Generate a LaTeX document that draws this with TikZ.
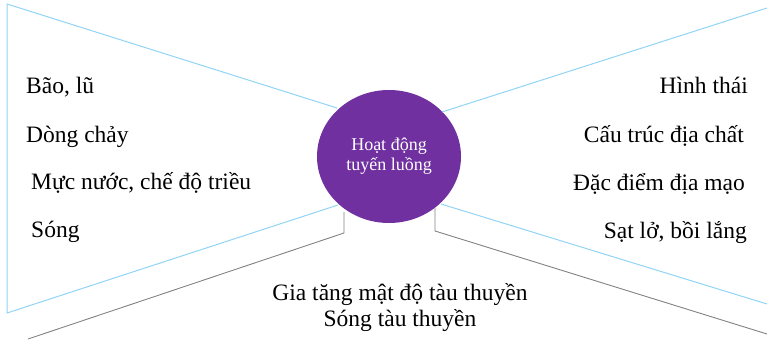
\documentclass[tikz,border=0pt]{standalone}
\usepackage{fontspec}
\setmainfont{Liberation Serif}
\usetikzlibrary{shapes.geometric}
\definecolor{lblue}{RGB}{145,212,245}
\definecolor{purp}{RGB}{112,48,160}
\definecolor{lgray}{RGB}{130,130,130}
\begin{document}
\begin{tikzpicture}[x=1pt,y=-1pt,
  hub/.style={ellipse, fill=purp, draw=none, minimum width=144pt, minimum height=133pt, inner sep=0pt,
    align=center, text=white, font=\fontsize{18}{20}\selectfont},
  lbl/.style={inner sep=0pt, font=\fontsize{23.5}{26}\selectfont},
  bluel/.style={draw=lblue, line width=1pt},
  grayl/.style={draw=lgray, line width=0.9pt}]
\useasboundingbox (0,0) rectangle (767,340);
\node[hub] (c) at (389,156.5) {Hoạt động\\tuyến luồng};
% left triangle
\coordinate (tl) at (7,4);
\coordinate (bl) at (7,313);
\coordinate (lt) at (337,108);
\coordinate (lb) at (338,205);
\draw[bluel] (lt) -- (tl) -- (bl) -- (lb);
% right lines
\coordinate (rt) at (442,112);
\coordinate (rte) at (767,8);
\coordinate (rb) at (441,204);
\coordinate (rbe) at (767,304);
\draw[bluel] (rt) -- (rte);
\draw[bluel] (rb) -- (rbe);
% gray lines
\coordinate (gl0) at (344,212);
\coordinate (gl1) at (344,233);
\coordinate (gl2) at (28,339);
\coordinate (gr0) at (435,208);
\coordinate (gr1) at (435,231);
\coordinate (gr2) at (767,334);
\draw[grayl] (gl0) -- (gl1) -- (gl2);
\draw[grayl] (gr0) -- (gr1) -- (gr2);
% left labels
\node[lbl, anchor=base west] (a1) at (26,93) {Bão, lũ};
\node[lbl, anchor=base west] (a2) at (26,142) {Dòng chảy};
\node[lbl, anchor=base west] (a3) at (31,189) {Mực nước, chế độ triều};
\node[lbl, anchor=base west] (a4) at (31,237) {Sóng};
% right labels
\node[lbl, anchor=base east] (b1) at (748,93) {Hình thái};
\node[lbl, anchor=base east] (b2) at (744,142) {Cấu trúc địa chất};
\node[lbl, anchor=base east] (b3) at (745,190) {Đặc điểm địa mạo};
\node[lbl, anchor=base east] (b4) at (747,238) {Sạt lở, bồi lắng};
% bottom labels
\node[lbl, anchor=base] (d1) at (400,300) {Gia tăng mật độ tàu thuyền};
\node[lbl, anchor=base] (d2) at (400,326) {Sóng tàu thuyền};
\end{tikzpicture}
\end{document}
